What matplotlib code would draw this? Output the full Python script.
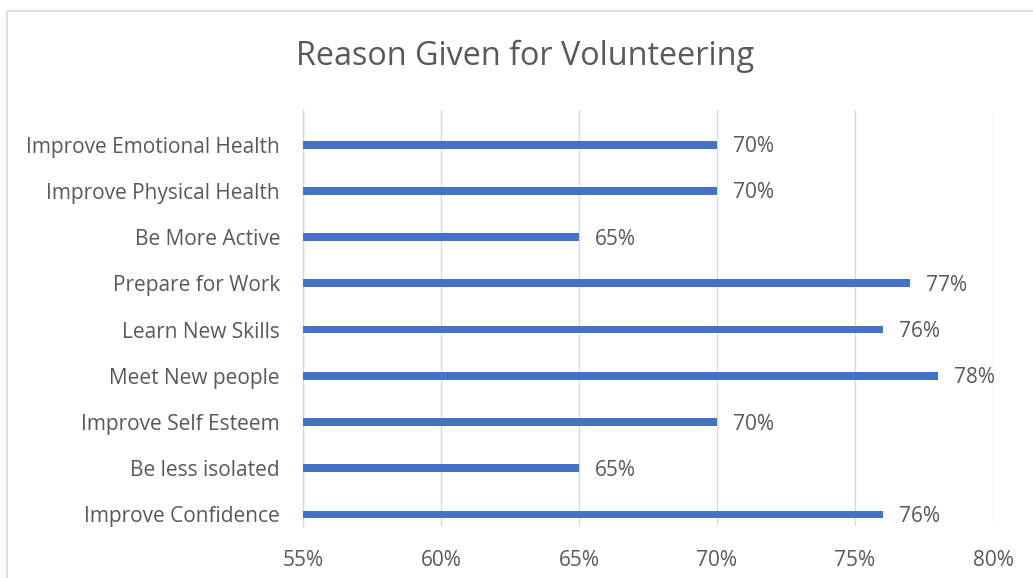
import matplotlib.pyplot as plt
from matplotlib.patches import Rectangle
from matplotlib.ticker import FuncFormatter, MultipleLocator

plt.rcParams['font.family'] = ['Open Sans', 'DejaVu Sans']

categories = [
    "Improve Confidence",
    "Be less isolated",
    "Improve Self Esteem",
    "Meet New people",
    "Learn New Skills",
    "Prepare for Work",
    "Be More Active",
    "Improve Physical Health",
    "Improve Emotional Health",
]
values = [76, 65, 70, 78, 76, 77, 65, 70, 70]

title = "Reason Given for Volunteering"
bar_color = "#4472C4"
text_color = "#595959"
grid_color = "#D9D9D9"

fig = plt.figure(figsize=(10.33, 5.78), dpi=100)
fig.patch.set_facecolor("white")

# outer chart frame (runs off the right and bottom edges)
fig.add_artist(Rectangle((7 / 1033, -0.05), 1.2, 1 - 11 / 578 + 0.05,
                         transform=fig.transFigure, fill=False,
                         edgecolor=grid_color, linewidth=1.2))

ax = fig.add_axes([303 / 1033, 1 - 526 / 578, (993 - 303) / 1033, (526 - 110) / 578])

# bars sit a quarter of a band below the band centre (second, empty series slot)
shift = 0.25
ypos = [i - shift for i in range(len(categories))]
ax.barh(ypos, [v - 55 for v in values], left=55, height=0.17, color=bar_color, zorder=3)

ax.set_xlim(55, 80)
ax.set_ylim(-0.5, len(categories) - 0.5)
ax.xaxis.set_major_locator(MultipleLocator(5))
ax.xaxis.set_major_formatter(FuncFormatter(lambda v, _: f"{v:.0f}%"))
ax.set_yticks(ypos)
ax.set_yticklabels(categories)
ax.tick_params(axis="y", length=0, pad=16.5, labelsize=15, labelcolor=text_color)
ax.tick_params(axis="x", length=0, pad=17.5, labelsize=15, labelcolor=text_color)
ax.grid(axis="x", color=grid_color, linewidth=1.0, zorder=0)
for s in ["top", "right", "bottom"]:
    ax.spines[s].set_visible(False)
ax.spines["left"].set_color(grid_color)
ax.spines["left"].set_linewidth(1.0)

for yi, v in zip(ypos, values):
    ax.annotate(f"{v}%", xy=(v, yi), xytext=(11.5, -1.5), textcoords="offset points",
                va="center", ha="left", fontsize=15, color=text_color)

fig.text(525 / 1033, 1 - 56 / 578, title, ha="center", va="center",
         fontsize=23.3, color=text_color)

fig.savefig("out.png", dpi=100)
